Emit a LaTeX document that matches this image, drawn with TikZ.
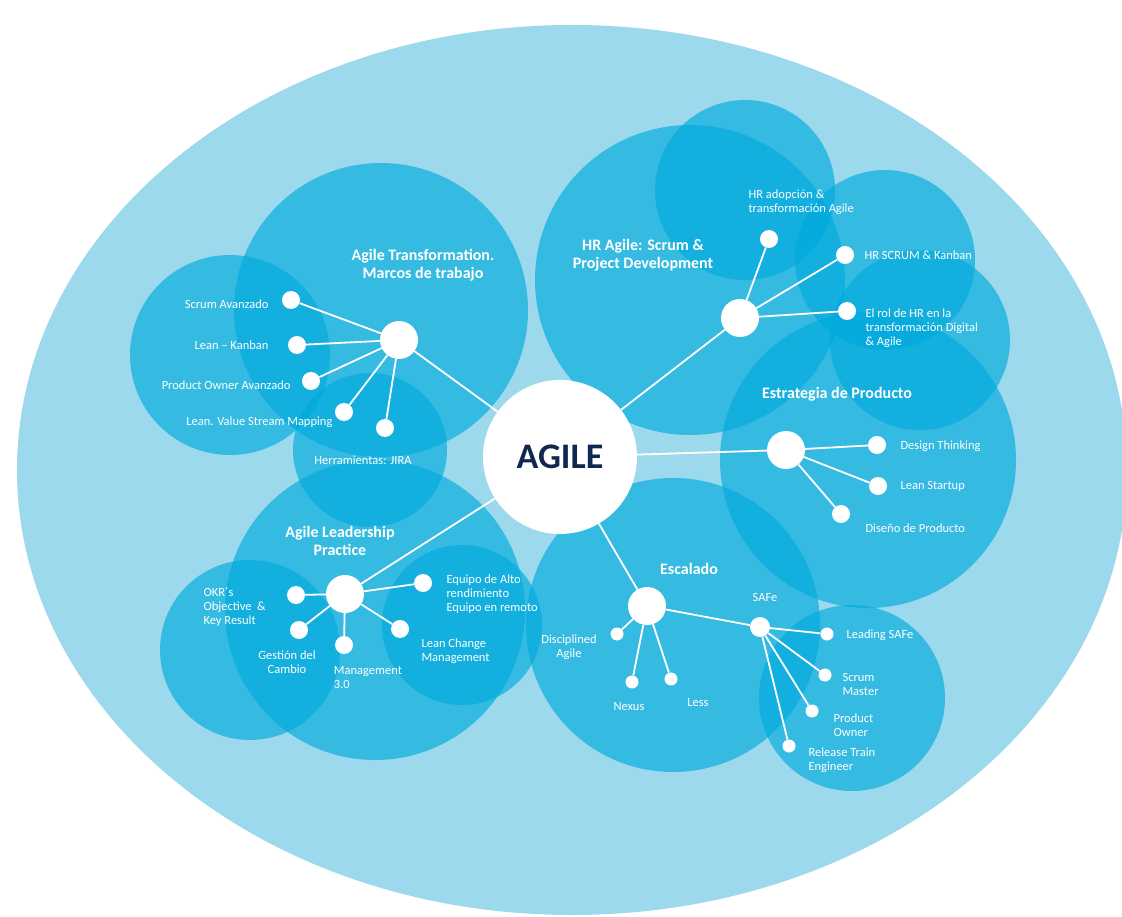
\documentclass[tikz,border=0pt]{standalone}
\usepackage{fontspec}
\setmainfont{Carlito}
\definecolor{bgblue}{RGB}{157,217,236}
\definecolor{cblue}{RGB}{0,170,222}
\definecolor{navy}{RGB}{16,40,80}
\begin{document}
\begin{tikzpicture}[x=1pt,y=-1pt,
  bub/.style={fill=cblue,fill opacity=0.66,draw=none},
  hub/.style={circle,fill=white,minimum size=38pt,inner sep=0pt},
  leaf/.style={circle,fill=white,minimum size=18pt,inner sep=0pt},
  sleaf/.style={circle,fill=white,minimum size=13pt,inner sep=0pt},
  lnk/.style={white,line width=1.8pt},
  ttl/.style={text=white,font=\bfseries\fontsize{16}{18}\selectfont,align=center},
  lbl/.style={text=white,font=\fontsize{12.5}{14}\selectfont,align=left}]
\useasboundingbox (0,0) rectangle (1122,917);
\fill[bgblue] (572,470) ellipse [x radius=555, y radius=445];
% bubbles
\fill[bub] (381,310) circle (147);
\fill[bub] (230,355) circle (100);
\fill[bub] (370,450) circle (77);
\fill[bub] (690,280) circle (155);
\fill[bub] (745,190) circle (90);
\fill[bub] (885,260) circle (90);
\fill[bub] (920,340) circle (90);
\fill[bub] (868,460) circle (148);
\fill[bub] (673,625) circle (147);
\fill[bub] (852,698) circle (93);
\fill[bub] (375,610) circle (150);
\fill[bub] (250,650) circle (90);
\fill[bub] (462,625) circle (80);
% nodes
\node[circle,fill=white,minimum size=154pt,inner sep=0pt] (agile) at (560,457) {};
\node[text=navy,font=\bfseries\fontsize{36}{40}\selectfont] at (560,457) {AGILE};
\node[hub] (h1) at (399,340) {};
\node[hub] (h2) at (740,318) {};
\node[hub] (h3) at (786,450) {};
\node[hub] (h4) at (647,606) {};
\node[hub] (h5) at (345,594) {};
\node[circle,fill=white,minimum size=20pt,inner sep=0pt] (safe) at (760,627) {};
\foreach \n/\x/\y in {a1/291/300,a2/297/345,a3/311/381,a4/344/412,a5/385/428,
  b1/769/239,b2/845/255,b3/847/311,c1/877/445,c2/878/486,c3/841/514,
  d1/296/595,d2/299/630,d3/344/645,d4/400/629,d5/423/583}
  \node[leaf] (\n) at (\x,\y) {};
\foreach \n/\x/\y in {e1/617/634,e2/632/682,e3/671/679,f1/827/634,f2/825/675,f3/812/711,f4/789/746}
  \node[sleaf] (\n) at (\x,\y) {};
% links
\draw[lnk] (agile) -- (h1); \draw[lnk] (agile) -- (h2); \draw[lnk] (agile) -- (h3);
\draw[lnk] (agile) -- (h4); \draw[lnk] (agile) -- (h5);
\foreach \n in {a1,a2,a3,a4,a5} \draw[lnk] (h1) -- (\n);
\foreach \n in {b1,b2,b3} \draw[lnk] (h2) -- (\n);
\foreach \n in {c1,c2,c3} \draw[lnk] (h3) -- (\n);
\foreach \n in {d1,d2,d3,d4,d5} \draw[lnk] (h5) -- (\n);
\foreach \n in {e1,e2,e3,safe} \draw[lnk] (h4) -- (\n);
\foreach \n in {f1,f2,f3,f4} \draw[lnk] (safe) -- (\n);
% titles
\node[ttl] at (423,265) {Agile Transformation.\\Marcos de trabajo};
\node[ttl] at (643,255) {HR Agile: Scrum \&\\Project Development};
\node[ttl] at (837,394) {Estrategia de Producto};
\node[ttl] at (689,569) {Escalado};
\node[ttl] at (340,541) {Agile Leadership\\Practice};
% labels
\node[lbl,anchor=east] at (272,304) {Scrum Avanzado};
\node[lbl,anchor=east] at (272,345) {Lean – Kanban};
\node[lbl,anchor=east] at (294,385) {Product Owner Avanzado};
\node[lbl,anchor=east] at (336,422) {Lean. Value Stream Mapping};
\node[lbl] at (363,460) {Herramientas: JIRA};
\node[lbl,anchor=west] at (745,202) {HR adopción \&\\transformación Agile};
\node[lbl,anchor=west] at (861,255) {HR SCRUM \& Kanban};
\node[lbl,anchor=west] at (862,328) {El rol de HR en la\\transformación Digital\\\& Agile};
\node[lbl,anchor=west] at (897,446) {Design Thinking};
\node[lbl,anchor=west] at (897,486) {Lean Startup};
\node[lbl,anchor=west] at (862,528) {Diseño de Producto};
\node[lbl,anchor=west] at (200,607) {OKR´s\\Objective \ \&\\Key Result};
\node[lbl,align=center] at (287,662) {Gestión del\\Cambio};
\node[lbl,align=left] at (368,678) {Management\\3.0};
\node[lbl,anchor=west] at (418,651) {Lean Change\\Management};
\node[lbl,anchor=west] at (443,594) {Equipo de Alto\\rendimiento\\Equipo en remoto};
\node[lbl,align=center] at (569,647) {Disciplined\\Agile};
\node[lbl] at (629,707) {Nexus};
\node[lbl] at (698,703) {Less};
\node[lbl] at (765,597) {SAFe};
\node[lbl,anchor=west] at (843,635) {Leading SAFe};
\node[lbl,anchor=west] at (839,684) {Scrum\\Master};
\node[lbl,anchor=west] at (830,725) {Product\\Owner};
\node[lbl,anchor=west] at (805,760) {Release Train\\Engineer};
\end{tikzpicture}
\end{document}
